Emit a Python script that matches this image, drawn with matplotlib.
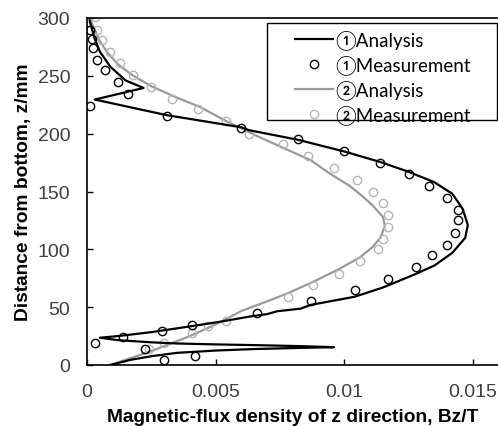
import numpy as np
import matplotlib
matplotlib.use("Agg")
import matplotlib.pyplot as plt
from matplotlib.patches import Rectangle

# (1) analysis path, x = Bz [T], z = height [mm]
x1a = [0.0009, 0.0017, 0.0025, 0.0035, 0.0050, 0.0065, 0.0083, 0.0096, 0.0083, 0.0065,
       0.0050, 0.0035, 0.0025, 0.0012, 0.0005, 0.0012, 0.0025, 0.0041, 0.0052, 0.0063,
       0.0070, 0.0074, 0.0083, 0.0087, 0.0104, 0.0115, 0.0127, 0.0135, 0.0142, 0.0147,
       0.0148, 0.0146, 0.0142, 0.0135, 0.0125, 0.0114, 0.0100, 0.0082, 0.0063, 0.0060,
       0.0031, 0.0003, 0.0022, 0.0015, 0.0009, 0.0005, 0.0003, 0.0001]
z1a = [0, 4.5, 7.6, 10.5, 12.5, 13.8, 14.8, 15.4, 16.3, 17.2,
       17.8, 18.6, 19.6, 21.5, 23.6, 25, 28.4, 33.7, 37.5, 41.8,
       44, 46.5, 48.7, 52, 59, 67, 78, 86, 97, 110,
       121, 135, 148, 158, 167, 175.5, 184.6, 194.7, 203, 205.5,
       216, 229.5, 239.5, 246, 258, 271, 282, 298]

# (1) measurement
x1m = [0.0030, 0.0042, 0.00225, 0.0003, 0.0014, 0.0029, 0.0041, 0.0066, 0.0087, 0.0104,
       0.0117, 0.0128, 0.0134, 0.0140, 0.0143, 0.0144, 0.0144, 0.0140, 0.0133, 0.0125,
       0.0114, 0.0100, 0.0082, 0.0060, 0.0031, 0.0001, 0.0016, 0.0012, 0.0007, 0.0004,
       0.00022, 0.0002, 0.00013]
z1m = [4, 8, 14, 19, 24, 29, 35, 45, 55, 65,
       74, 85, 95, 104, 114, 125, 134, 144, 155, 165,
       175, 185, 195, 205, 215, 224, 234, 245, 255, 264,
       274, 282, 290]

# (2) analysis
x2a = [0.0009, 0.0025, 0.0040, 0.0050, 0.0060, 0.0070, 0.0078, 0.0088, 0.0098, 0.0106,
       0.0111, 0.0114, 0.01158, 0.0115, 0.0111, 0.0107, 0.0102, 0.0094, 0.0087, 0.0077,
       0.0067, 0.0054, 0.0044, 0.0034, 0.0025, 0.0018, 0.0012, 0.0008, 0.0005, 0.0003,
       0.0001]
z2a = [0, 12, 25, 35, 46.7, 55, 62, 72, 83, 93,
       102, 110, 120, 128, 138, 146, 155, 166, 177, 187,
       197, 211, 223, 232, 241, 250, 260, 270, 280, 290,
       300]

# (2) measurement
x2m = [0.0024, 0.0030, 0.0041, 0.0047, 0.0054, 0.0078, 0.0088, 0.0098, 0.0106, 0.0113,
       0.0115, 0.0117, 0.0117, 0.0115, 0.0111, 0.0105, 0.0096, 0.0086, 0.0076, 0.0063,
       0.0054, 0.0043, 0.0033, 0.0025, 0.0018, 0.0013, 0.0009, 0.0006, 0.0004, 0.0003]
z2m = [14, 19, 28, 34, 38, 59, 69, 79, 90, 100,
       109, 119, 130, 140, 150, 160, 170, 181, 191, 200,
       211, 221, 230, 240, 251, 261, 271, 281, 290, 301]

xticks = [0, 0.005, 0.01, 0.015]
xticklabels = ['0', '0.005', '0.01', '0.015']
yticks = [0, 50, 100, 150, 200, 250, 300]

plt.rcParams['font.family'] = ['Liberation Sans', 'DejaVu Sans']

W, H = 498, 427
fig = plt.figure(figsize=(W / 100, H / 100), dpi=100)
ax = fig.add_axes([87 / W, 1 - 366 / H, 411.7 / W, 347 / H])

gray_line = '#9a9a9a'
gray_mark = '#b5b5b5'

ax.plot(x1a, z1a, color='black', lw=1.6, label='①Analysis', zorder=3)
ax.plot(x1m, z1m, ls='none', marker='o', ms=6, mfc='none', mec='black', mew=1.0,
        label='①Measurement', zorder=4)
ax.plot(x2a, z2a, color=gray_line, lw=1.6, label='②Analysis', zorder=2)
ax.plot(x2m, z2m, ls='none', marker='o', ms=6, mfc='none', mec=gray_mark, mew=1.0,
        label='②Measurement', zorder=2)

ax.set_xlim(0, 0.016)
ax.set_ylim(0, 300)
ax.set_xticks(xticks)
ax.set_xticklabels(xticklabels)
ax.set_yticks(yticks)
ax.tick_params(direction='in', length=4, width=1, labelsize=14, labelcolor='#404040', pad=12)
ax.tick_params(axis='x', pad=13)
ax.spines['right'].set_visible(False)
for s in ['left', 'bottom', 'top']:
    ax.spines[s].set_linewidth(1.2)

ax.set_xlabel('Magnetic-flux density of z direction, Bz/T', fontsize=13.8,
              fontweight='bold', labelpad=5.5)
ax.set_ylabel('Distance from bottom, z/mm', fontsize=13.8, fontweight='bold', labelpad=4)

# legend frame drawn separately (Excel-style wide box)
box = Rectangle((267 / W, 1 - 121 / H), 230 / W, 97 / H, transform=fig.transFigure,
                facecolor='white', edgecolor='black', lw=1.0, clip_on=False, zorder=5)
ax.add_artist(box)
leg = ax.legend(loc='upper left', bbox_to_anchor=(295 / W, 1 - 30.5 / H),
                bbox_transform=fig.transFigure, borderaxespad=0, borderpad=0,
                frameon=False, handlelength=2.05, handletextpad=0.1,
                labelspacing=0.27,
                prop={'family': ['Lato', 'DejaVu Sans'], 'size': 13.5})
leg.set_zorder(6)

fig.savefig('out.png', dpi=100)
